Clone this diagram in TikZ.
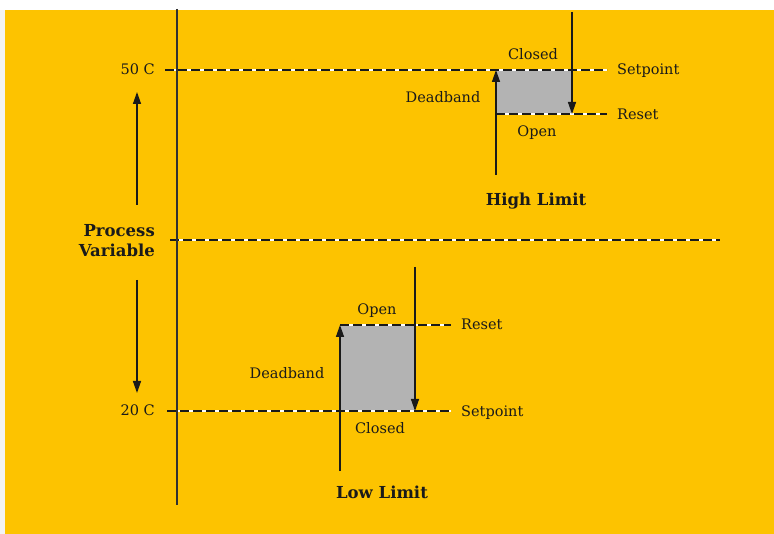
\documentclass[tikz,border=0pt]{standalone}
\usepackage{fontspec}
\setmainfont{DejaVu Serif}
\usetikzlibrary{arrows.meta}
\definecolor{bgyellow}{HTML}{FDC300}
\definecolor{ink}{HTML}{1A1A1A}
\definecolor{boxgray}{HTML}{B3B3B3}
\definecolor{edgegray}{HTML}{F3F3F3}
\begin{document}
\begin{tikzpicture}[x=1pt,y=-1pt,
  lbl/.style={font=\fontsize{14.5}{17}\selectfont, text=ink, inner sep=0pt, anchor=base},
  ttl/.style={font=\bfseries\fontsize{16.5}{20}\selectfont, text=ink, inner sep=0pt, anchor=base},
  dashline/.style={draw=ink, line width=1.1pt, dash pattern=on 9pt off 4pt,
    preaction={draw=white, line width=1.1pt, solid}},
  axisline/.style={draw=ink!90, line width=1.8pt},
  arr/.style={draw=ink, line width=1.4pt, -{Triangle[length=12pt,width=8pt]}},
  band/.style={fill=boxgray, draw=none}]
\useasboundingbox (0,0) rectangle (774,534);
\fill[white] (-2,-2) rectangle (776,540);
\fill[edgegray] (-2,10) rectangle (5,540);
\fill[bgyellow] (5,10) rectangle (776,540);

% key coordinates
\coordinate (axT) at (177,9);
\coordinate (axB) at (177,505);
\coordinate (hSa) at (165,70);  \coordinate (hSb) at (607,70);
\coordinate (mA)  at (170,240); \coordinate (mB)  at (720,240);
\coordinate (lSa) at (167,411); \coordinate (lSb) at (451,411);
\coordinate (hR0) at (496,114); \coordinate (hRb) at (607,114);
\coordinate (lR0) at (340,325); \coordinate (lRb) at (451,325);
\coordinate (hBoxA) at (496,70); \coordinate (hBoxB) at (572,114);
\coordinate (lBoxA) at (340,325); \coordinate (lBoxB) at (415,411);

% deadband boxes
\path[band] (hBoxA) rectangle (hBoxB);
\path[band] (lBoxA) rectangle (lBoxB);

% dashed lines
\draw[dashline] (hSa) -- (hSb);
\draw[dashline] (mA) -- (mB);
\draw[dashline] (lSa) -- (lSb);
\draw[dashline] (hR0) -- (hRb);
\draw[dashline] (lR0) -- (lRb);

% axis
\draw[axisline] (axT) -- (axB);

% process variable arrows
\coordinate (pvU0) at (137,205); \coordinate (pvU1) at (137,92);
\coordinate (pvD0) at (137,280); \coordinate (pvD1) at (137,393);
\draw[arr] (pvU0) -- (pvU1);
\draw[arr] (pvD0) -- (pvD1);

% high limit arrows
\coordinate (hU0) at (496,175); \coordinate (hU1) at (496,70);
\coordinate (hD0) at (572,12);  \coordinate (hD1) at (572,114);
\draw[arr] (hU0) -- (hU1);
\draw[arr] (hD0) -- (hD1);

% low limit arrows
\coordinate (lU0) at (340,471); \coordinate (lU1) at (340,325);
\coordinate (lD0) at (415,267); \coordinate (lD1) at (415,411);
\draw[arr] (lU0) -- (lU1);
\draw[arr] (lD0) -- (lD1);

% left labels
\node[lbl, anchor=base east] (t50) at (155,75) {50 C};
\node[lbl, anchor=base east] (t20) at (155,416) {20 C};
\node[ttl, anchor=base east] (pv1) at (155,237) {Process};
\node[ttl, anchor=base east] (pv2) at (155,257) {Variable};

% high limit labels
\node[lbl] (hClosed) at (533,60) {Closed};
\node[lbl, anchor=base west] (hSet) at (617,75) {Setpoint};
\node[lbl] (hDead) at (443,103) {Deadband};
\node[lbl, anchor=base west] (hRes) at (617,120) {Reset};
\node[lbl] (hOpen) at (537,137) {Open};
\node[ttl] (hTitle) at (536,206) {High Limit};

% low limit labels
\node[lbl] (lOpen) at (377,315) {Open};
\node[lbl, anchor=base west] (lRes) at (461,330) {Reset};
\node[lbl] (lDead) at (287,379) {Deadband};
\node[lbl, anchor=base west] (lSet) at (461,417) {Setpoint};
\node[lbl] (lClosed) at (380,434) {Closed};
\node[ttl] (lTitle) at (382,498) {Low Limit};
\end{tikzpicture}
\end{document}
